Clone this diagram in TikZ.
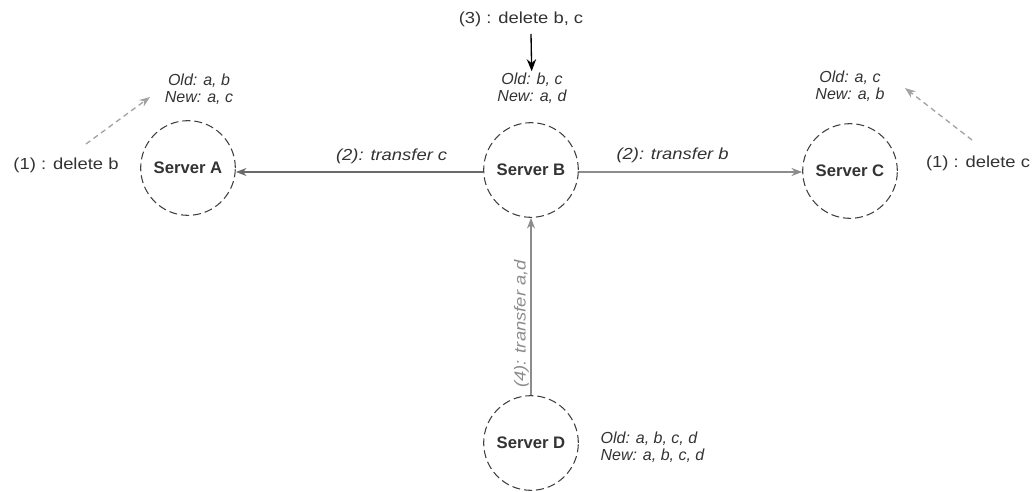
\documentclass[tikz,border=0pt]{standalone}
\usepackage{fontspec}
\setmainfont{Liberation Sans}
\newfontfamily\widefont[FakeStretch=1.15]{Liberation Sans}
\usetikzlibrary{arrows.meta}
\definecolor{circ}{gray}{0.25}
\definecolor{arr}{gray}{0.55}
\definecolor{txt}{gray}{0.2}
\begin{document}
\begin{tikzpicture}[x=0.75pt,y=-0.75pt,
  server/.style={circle,draw=circ,dash pattern=on 6pt off 3pt,line width=0.8pt,minimum size=71pt,inner sep=0pt,font=\bfseries\fontsize{12.5}{14}\selectfont,text=txt},
  info/.style={font=\itshape\fontsize{12}{12.5}\selectfont,text=txt,align=center,inner sep=1pt},
  lbl/.style={font=\widefont\fontsize{12}{14}\selectfont,text=txt,inner sep=1pt},
  ilbl/.style={font=\widefont\itshape\fontsize{12}{14}\selectfont,text=txt,inner sep=1pt},
  flow/.style={draw=arr,line width=1pt,-{Stealth[length=8pt,width=6pt]}},
  dflow/.style={draw=arr!80,line width=1pt,dash pattern=on 4pt off 3pt,-{Stealth[length=8pt,width=6pt]}},
  kflow/.style={draw=black,line width=1pt,-{Stealth[length=9pt,width=7pt]}}]
\useasboundingbox (0,0) rectangle (1034,492);
\node[server] (A) at (188,168) {Server A};
\node[server] (B) at (531,170) {Server B};
\node[server] (C) at (850,171) {Server C};
\node[server] (D) at (531,443) {Server D};
\node[info] (iA) at (199,89) {Old: a, b\\New: a, c};
\node[info] (iB) at (532,88) {Old: b, c\\New: a, d};
\node[info] (iC) at (850,86) {Old: a, c\\New: a, b};
\node[info,align=left,anchor=west] (iD) at (599,447) {Old: a, b, c, d\\New: a, b, c, d};
\node[lbl] (dA) at (66,165) {(1) : delete b};
\node[lbl] (dC) at (978,163) {(1) : delete c};
\node[lbl] (dB) at (521,19) {(3) : delete b, c};
\coordinate (tA) at (150,97);
\coordinate (tC) at (905,88);
\draw[dflow] (86,144) -- (tA);
\draw[dflow] (972,140) -- (tC);
\draw[kflow] (531,34) -- (iB);
\draw[flow,draw=arr!130] (B.west|-0,172) -- node[ilbl,above=5pt,pos=0.37]{(2): transfer c} (A.east|-0,172);
\draw[flow,line width=1.4pt] (B.east|-0,172) -- node[ilbl,above=5pt,pos=0.42]{(2): transfer b} (C.west|-0,172);
\draw[flow] (D) -- node[ilbl,text=arr,rotate=90,left=9pt,anchor=south,pos=0.47]{(4): transfer a,d} (B);
\end{tikzpicture}
\end{document}
